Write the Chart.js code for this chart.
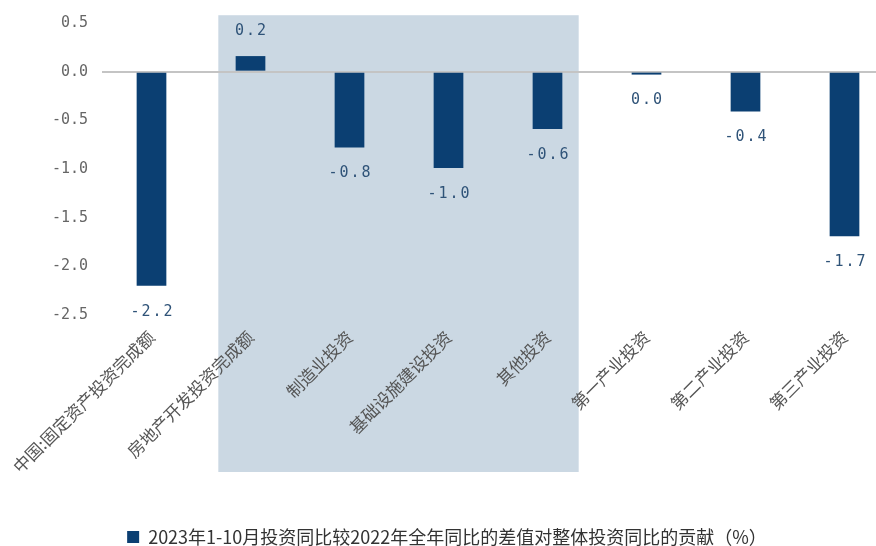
<!DOCTYPE html>
<html>
<head>
<meta charset="utf-8">
<script src="https://cdn.jsdelivr.net/npm/chart.js@4"></script>
<style>
  html, body { margin: 0; padding: 0; background: #fff; overflow: hidden; }
  #wrap { position: relative; width: 914px; height: 546px; margin-left: -19px; }
</style>
</head>
<body>
<div id="wrap"><canvas id="contribChart"></canvas></div>
<script>
// categories and contribution values (pp)
const categories = [
  "中国:固定资产投资完成额",
  "房地产开发投资完成额",
  "制造业投资",
  "基础设施建设投资",
  "其他投资",
  "第一产业投资",
  "第二产业投资",
  "第三产业投资"
];
const contribValues = [-2.2, 0.16, -0.78, -0.99, -0.59, -0.03, -0.41, -1.69];
const seriesName = "2023年1-10月投资同比较2022年全年同比的差值对整体投资同比的贡献（%）";
const yTicks = [0.5, 0.0, -0.5, -1.0, -1.5, -2.0, -2.5];
// categories sitting on the grey panel
const shadedFrom = 1;
const shadedTo = 4;

const BAR_COLOR = "#0b3f72";
const NUM_FONT = "'DejaVu Sans Mono', monospace";
const CJK_FONT = "'Noto Sans CJK SC', sans-serif";
const fmt = v => (Math.round(v * 10) / 10).toFixed(1);

// light panel behind the investment breakdown
const shadePanel = {
  id: "shadePanel",
  beforeDraw(chart) {
    const { ctx, scales: { x, y } } = chart;
    const step = x.getPixelForValue(1) - x.getPixelForValue(0);
    const left = x.getPixelForValue(shadedFrom) - step * 0.325;
    const right = x.getPixelForValue(shadedTo) + step * 0.315;
    const top = y.getPixelForValue(0.58);
    const bottom = y.bottom + 157;
    ctx.save();
    ctx.fillStyle = "#cbd8e3";
    ctx.fillRect(left, top, right - left, bottom - top);
    ctx.restore();
  }
};

// value labels at the end of each bar
const barValues = {
  id: "barValues",
  afterDatasetsDraw(chart) {
    const { ctx } = chart;
    const meta = chart.getDatasetMeta(0);
    ctx.save();
    ctx.font = "15px " + NUM_FONT;
    ctx.letterSpacing = "2px";
    ctx.fillStyle = "#2f5378";
    ctx.textAlign = "center";
    ctx.textBaseline = "middle";
    meta.data.forEach((bar, i) => {
      const v = contribValues[i];
      const yPos = v >= 0 ? bar.y - 25 : bar.y + 26;
      ctx.fillText(fmt(v), bar.x + 1, yPos);
    });
    ctx.restore();
  }
};

new Chart(document.getElementById("contribChart"), {
  type: "bar",
  data: {
    labels: categories,
    datasets: [{
      label: seriesName,
      data: contribValues,
      backgroundColor: BAR_COLOR,
      borderWidth: 0,
      barPercentage: 0.3,
      categoryPercentage: 1.0
    }]
  },
  options: {
    responsive: true,
    maintainAspectRatio: false,
    animation: false,
    layout: { padding: { left: 19, top: 15, right: 1, bottom: -10 } },
    plugins: {
      legend: {
        position: "bottom",
        labels: {
          color: "#333",
          font: { size: 18, family: CJK_FONT },
          boxWidth: 12,
          boxHeight: 12,
          padding: 0
        }
      },
      tooltip: { enabled: false }
    },
    scales: {
      x: {
        afterFit(axis) { axis.height = 213; },
        grid: { display: false },
        border: { display: false },
        ticks: {
          autoSkip: false,
          minRotation: 45,
          maxRotation: 45,
          padding: 4,
          color: "#555",
          font: { size: 17, family: CJK_FONT }
        }
      },
      y: {
        min: -2.5,
        max: 0.5,
        afterFit(axis) { axis.width = 102; },
        afterBuildTicks(axis) {
          axis.ticks = yTicks.map(v => ({ value: v }));
        },
        grid: {
          drawTicks: false,
          lineWidth: 2,
          color: ctx => (ctx.tick && ctx.tick.value === 0 ? "#c4c4c4" : "rgba(0,0,0,0)")
        },
        border: { display: false },
        ticks: {
          padding: 14,
          color: "#666",
          font: { size: 15, family: NUM_FONT },
          callback: v => fmt(v)
        }
      }
    }
  },
  plugins: [shadePanel, barValues]
});
</script>
</body>
</html>
